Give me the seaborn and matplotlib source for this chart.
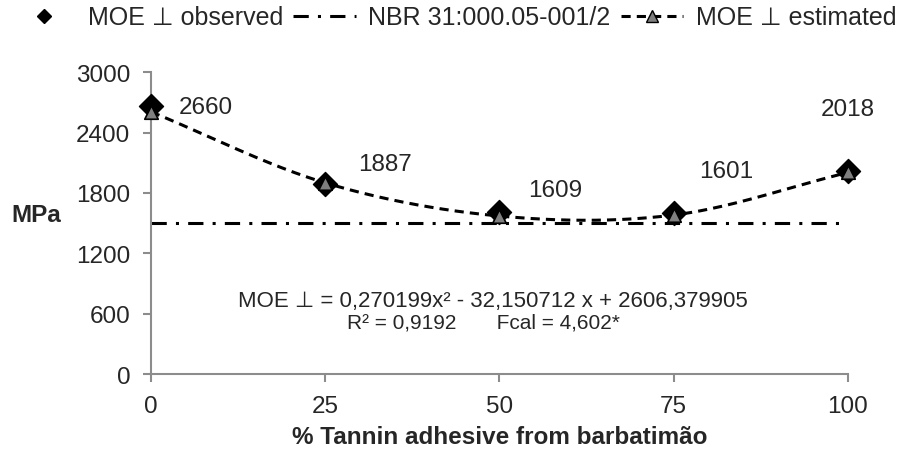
import numpy as np
import pandas as pd
import matplotlib
matplotlib.use("Agg")
import matplotlib.pyplot as plt
import seaborn as sns
from matplotlib.lines import Line2D

# ---- data ----
tannin = [0, 25, 50, 75, 100]
moe_observed = [2660, 1887, 1609, 1601, 2018]
moe_estimated = [2606, 1900, 1570, 1580, 2003]
nbr_limit = 1500
obs_labels = ["2660", "1887", "1609", "1601", "2018"]
label_x = [7.9, 33.6, 58.0, 82.5, 100.0]
label_y = [2650, 2085, 1827, 2016, 2632]
x_ticks = [0, 25, 50, 75, 100]
y_ticks = [0, 600, 1200, 1800, 2400, 3000]
equation = "MOE \u22a5 = 0,270199x\u00b2 - 32,150712 x + 2606,379905"
stats_line = "R\u00b2 = 0,9192       Fcal = 4,602*"

sns.set_theme(style="white")
plt.rcParams['font.family'] = ['Liberation Sans', 'DejaVu Sans']
FS = 17.5

fig = plt.figure(figsize=(9.04, 4.56), dpi=100)
ax = fig.add_axes([0.167, 0.1776, 0.771, 0.662])

# smooth (Catmull-Rom, like spreadsheet smoothed line) through estimated points
def smooth(xs, ys, n=40):
    xs = np.asarray(xs, float); ys = np.asarray(ys, float)
    px = np.concatenate([[2*xs[0]-xs[1]], xs, [2*xs[-1]-xs[-2]]])
    py = np.concatenate([[2*ys[0]-ys[1]], ys, [2*ys[-1]-ys[-2]]])
    ox, oy = [], []
    for i in range(1, len(px)-2):
        t = np.linspace(0, 1, n, endpoint=(i == len(px)-3))
        for arr, out in ((px, ox), (py, oy)):
            p0, p1, p2, p3 = arr[i-1], arr[i], arr[i+1], arr[i+2]
            out.extend(0.5*((2*p1) + (-p0+p2)*t + (2*p0-5*p1+4*p2-p3)*t**2 + (-p0+3*p1-3*p2+p3)*t**3))
    return np.array(ox), np.array(oy)

sx, sy = smooth(tannin, moe_estimated)
curve = pd.DataFrame({"x": sx, "y": sy})
sns.lineplot(data=curve, x="x", y="y", ax=ax, color="black", lw=2.2,
             sort=False, estimator=None)
ax.lines[-1].set_dashes((3, 2))

# NBR line
nbr = pd.DataFrame({"x": [0, 100], "y": [nbr_limit, nbr_limit]})
sns.lineplot(data=nbr, x="x", y="y", ax=ax, color="black", lw=2.2, estimator=None)
ax.lines[-1].set_dashes((5, 3, 1, 3))

df = pd.DataFrame({"x": tannin, "obs": moe_observed, "est": moe_estimated})
sns.scatterplot(data=df, x="x", y="obs", ax=ax, marker="D", s=150, color="black",
                edgecolor="black", linewidth=1, zorder=5, clip_on=False)
sns.scatterplot(data=df, x="x", y="est", ax=ax, marker="^", s=95, color="#7f7f7f",
                edgecolor="black", linewidth=1.2, zorder=6, clip_on=False)

for lx, ly, t in zip(label_x, label_y, obs_labels):
    ax.text(lx, ly, t, ha="center", va="center", fontsize=FS)

ax.text(49.0, 675, equation, ha="center", va="baseline", fontsize=16)
ax.text(47.7, 467, stats_line, ha="center", va="baseline", fontsize=15)

ax.set_xlim(0, 100)
ax.set_ylim(0, 3000)
ax.set_xticks(x_ticks)
ax.set_yticks(y_ticks)
ax.set_xlabel("% Tannin adhesive from barbatimão", fontweight="bold", fontsize=FS, labelpad=6)
ax.set_ylabel("MPa", fontweight="bold", fontsize=FS, rotation=0)
ax.yaxis.set_label_coords(-0.164, 0.49)
for s in ["top", "right"]:
    ax.spines[s].set_visible(False)
for s in ["left", "bottom"]:
    ax.spines[s].set_color("#8c8c8c")
    ax.spines[s].set_linewidth(1.5)
ax.tick_params(axis="both", which="major", direction="out", length=6, width=1.5,
               color="#8c8c8c", labelsize=FS, pad=9, left=True, bottom=True)

handles = [
    Line2D([], [], color="black", marker="D", markersize=7, linestyle="none"),
    Line2D([], [], color="black", lw=2.2, dashes=(5, 3, 1, 3)),
    Line2D([], [], color="black", lw=2.2, dashes=(3, 2), marker="^", markersize=9,
           markerfacecolor="#7f7f7f", markeredgecolor="black"),
]
labels = ["MOE \u22a5 observed", "NBR 31:000.05-001/2", "MOE \u22a5 estimated"]
fig.legend(handles, labels, loc="upper center", bbox_to_anchor=(0.503, 1.03), ncol=3,
           frameon=False, fontsize=18, handlelength=2.5, handletextpad=0.5,
           columnspacing=0.4, borderpad=0.3)

fig.savefig("out.png", dpi=100)
